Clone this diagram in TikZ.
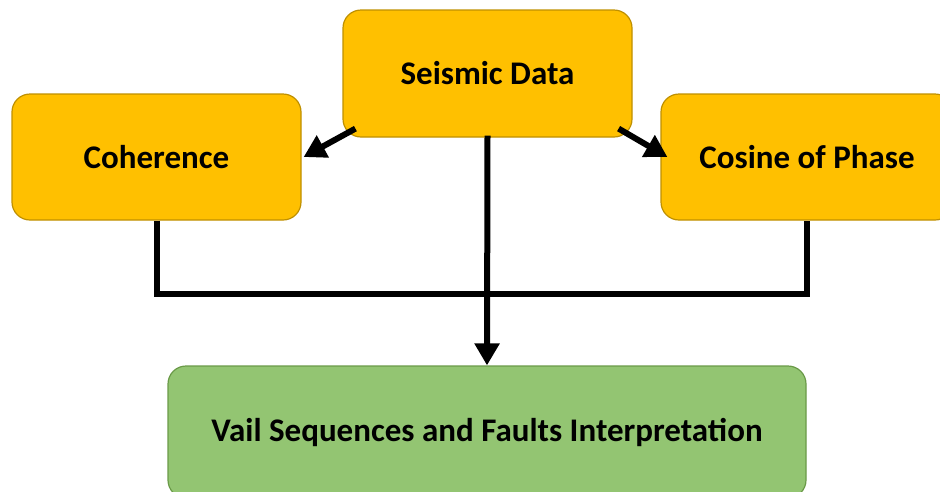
\documentclass[tikz,border=0pt]{standalone}
\usepackage{fontspec}
\setmainfont{Carlito}
\usetikzlibrary{arrows.meta}

\definecolor{gold}{HTML}{FFC000}
\definecolor{goldline}{HTML}{BF9000}
\definecolor{leaf}{HTML}{93C572}
\definecolor{leafline}{HTML}{6A9A48}

\tikzset{
  ybox/.style={draw=goldline,fill=gold,line width=1.2pt,rounded corners=18pt,
    font=\fontsize{33}{38}\selectfont\bfseries},
  gbox/.style={draw=leafline,fill=leaf,line width=1.2pt,rounded corners=18pt,
    font=\fontsize{33}{38}\selectfont\bfseries},
  bar/.style={line width=6pt},
  arr/.style={line width=6pt,-{Triangle[length=22pt,width=24pt]}}
}

\begin{document}
\begin{tikzpicture}[x=1pt,y=-1pt]
            \useasboundingbox (0,0) rectangle (940,491);
            \node[ybox,minimum width=289,minimum height=127] (seismic) at (487.5,73.5) {Seismic Data};
            \node[ybox,minimum width=289,minimum height=126] (coherence) at (156.5,157) {Coherence};
            \node[ybox,minimum width=292,minimum height=126] (cosine) at (807,157) {Cosine of Phase};
            \node[gbox,minimum width=638,minimum height=132] (vail) at (487,432) {Vail Sequences and Faults Interpretation};
            \coordinate (L) at (coherence.south |- 0,294);
            \coordinate (R) at (cosine.south |- 0,294);
            \draw[bar] (coherence.south) -- (L) -- (R) -- (cosine.south);
            \draw[arr] ([shift={(0,-2)}]seismic.south) -- (vail.north);
            \draw[arr] ([shift={(13,-9)}]seismic.south west) -- ([xshift=2]coherence.east);
            \draw[arr] ([shift={(-14,-9)}]seismic.south east) -- ([xshift=7]cosine.west);
        \end{tikzpicture}
\end{document}
